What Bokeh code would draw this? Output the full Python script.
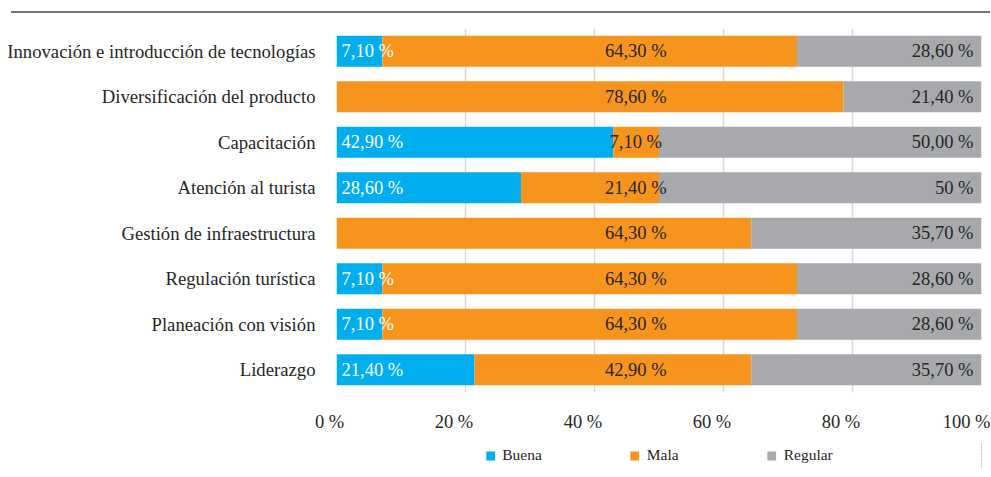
from bokeh.plotting import figure
from bokeh.models import ColumnDataSource, Range1d, FactorRange, FixedTicker, Legend, LegendItem, Div
from bokeh.layouts import column
from bokeh.core.properties import value
from bokeh.embed import file_html
from bokeh.resources import INLINE

# ---- data (top to bottom) ----
categories = [
    "Innovación e introducción de tecnologías",
    "Diversificación del producto",
    "Capacitación",
    "Atención al turista",
    "Gestión de infraestructura",
    "Regulación turística",
    "Planeación con visión",
    "Liderazgo",
]
buena = [7.1, 0.0, 42.9, 28.6, 0.0, 7.1, 7.1, 21.4]
mala = [64.3, 78.6, 7.1, 21.4, 64.3, 64.3, 64.3, 42.9]
regular = [28.6, 21.4, 50.0, 50.0, 35.7, 28.6, 28.6, 35.7]
buena_labels = ["7,10 %", "", "42,90 %", "28,60 %", "", "7,10 %", "7,10 %", "21,40 %"]
mala_labels = ["64,30 %", "78,60 %", "7,10 %", "21,40 %", "64,30 %", "64,30 %", "64,30 %", "42,90 %"]
regular_labels = ["28,60 %", "21,40 %", "50,00 %", "50 %", "35,70 %", "28,60 %", "28,60 %", "35,70 %"]
series_names = ["Buena", "Mala", "Regular"]
tick_values = [0, 20, 40, 60, 80, 100]
tick_labels = ["0 %", "20 %", "40 %", "60 %", "80 %", "100 %"]

MALA_LABEL_X = 46.4  # where the source chart centres the "Mala" labels

COLORS = ["#00aeef", "#f7941d", "#a7a9ac"]
FONT = "Liberation Serif"
TEXT_COLOR = "#262626"
STACK = ["buena", "mala", "regular"]

src = ColumnDataSource(dict(
    cat=categories,
    buena=buena,
    mala=mala,
    regular=regular,
    total=[b + m + r for b, m, r in zip(buena, mala, regular)],
    base=[0.0] * len(categories),
    mala_x=[MALA_LABEL_X] * len(categories),
    bl=buena_labels,
    ml=mala_labels,
    rl=regular_labels,
))

p = figure(
    frame_width=645, frame_height=364,
    y_range=FactorRange(factors=list(reversed(categories))),
    x_range=Range1d(0, 100),
    output_backend="svg", toolbar_location=None,
    min_border_left=336, min_border_right=9, min_border_top=15, min_border_bottom=50,
)
p.outline_line_color = None

p.hbar_stack(STACK, y="cat", height=0.68, color=COLORS, line_color=None, source=src)

p.text(x="base", y="cat", text="bl", source=src, text_align="left", text_baseline="middle",
       x_offset=5, text_font=value(FONT), text_font_size="18.5px", text_color="white")
p.text(x="mala_x", y="cat", text="ml", source=src, text_align="center", text_baseline="middle",
       text_font=value(FONT), text_font_size="18.5px", text_color=TEXT_COLOR)
p.text(x="total", y="cat", text="rl", source=src, text_align="right", text_baseline="middle",
       x_offset=-8, text_font=value(FONT), text_font_size="18.5px", text_color=TEXT_COLOR)

# tick labels sit slightly left of their ticks in the source chart
pad = [3, 5, 5, 5, 5, 0]
xa = p.xaxis[0]
xa.ticker = FixedTicker(ticks=tick_values)
xa.major_label_overrides = {v: l + "\u00a0" * n for v, l, n in zip(tick_values, tick_labels, pad)}
xa.axis_line_color = None
xa.major_tick_line_color = None
xa.minor_tick_line_color = None
xa.major_label_standoff = 13
xa.major_label_text_font = FONT
xa.major_label_text_font_size = "18.5px"
xa.major_label_text_color = TEXT_COLOR

ya = p.yaxis[0]
ya.axis_line_color = None
ya.major_tick_line_color = None
ya.minor_tick_line_color = None
ya.major_label_standoff = 15
ya.major_label_text_font = FONT
ya.major_label_text_font_size = "18.7px"
ya.major_label_text_color = TEXT_COLOR

p.xgrid.ticker = FixedTicker(ticks=tick_values)
p.xgrid.grid_line_color = "#d9d9d9"
p.xgrid.grid_line_width = 1.5
p.ygrid.grid_line_color = None

# legend strip: same series drawn off-range so only the legend shows
pl = figure(
    frame_width=645, frame_height=26,
    y_range=FactorRange(factors=list(reversed(categories))),
    x_range=Range1d(-10, -5),
    x_axis_type=None, y_axis_type=None,
    output_backend="svg", toolbar_location=None,
    min_border_left=336, min_border_right=9, min_border_top=0, min_border_bottom=0,
)
pl.outline_line_color = None
pl.grid.visible = False
lrs = pl.hbar_stack(STACK, y="cat", height=0.68, color=COLORS, line_color=None, source=src)

legend = Legend(
    items=[LegendItem(label=n, renderers=[r]) for n, r in zip(series_names, lrs)],
    orientation="horizontal", location="center",
    spacing=87, padding=0, margin=0,
    glyph_width=11, glyph_height=11, label_standoff=7,
    border_line_color=None, background_fill_alpha=0,
    label_text_font=FONT, label_text_font_size="15.5px", label_text_color=TEXT_COLOR,
)
pl.add_layout(legend)

rule = Div(text="", width=979, height=2, margin=(11, 0, 0, 11),
           styles={"background-color": "#747474"})

open("out.html", "w").write(file_html(column(rule, p, pl), INLINE))
